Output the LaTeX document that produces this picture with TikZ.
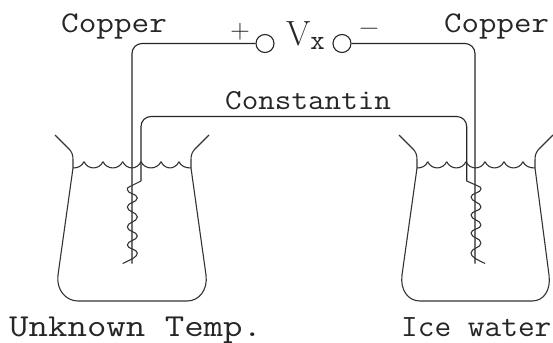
\documentclass[tikz,border=0pt]{standalone}
\tikzset{
  wire/.style={line width=1.1pt,draw=black!85,rounded corners=10pt},
  glass/.style={line width=1.1pt,draw=black!80,line join=round},
  terminal/.style={circle,draw=black!85,line width=1.1pt,minimum size=18pt,inner sep=0pt},
  tlabel/.style={anchor=base west,inner sep=0pt,text=black!85,font=\ttfamily},
  sign/.style={inner sep=0pt,text=black!85}
}
\newcommand{\fs}[1]{\fontsize{#1}{#1}\selectfont}
\begin{document}
\begin{tikzpicture}[x=1pt,y=-1pt]
\useasboundingbox (0,0) rectangle (553,342);
% terminals
\node[terminal] (tp) at (265,43.5) {};
\node[terminal] (tm) at (342,43.5) {};
\coordinate (cuL) at (132,263.5);
\coordinate (cuR) at (475,263.5);
\coordinate (coL) at (141,181);
\coordinate (coR) at (466.7,181);
% wires
\draw[wire] (tp.west) -- (cuL |- tp.west) -- (cuL);
\draw[wire] (tm.east) -- (cuR |- tm.east) -- (cuR);
\draw[wire] (coL) -- (141,116.5) -- (466.7,116.5) -- (coR);
% coils
\draw[glass] (coL) -- (130,186.5) .. controls (127.5,187.5) and (127.3,188) .. (127.3,189.5)
  .. controls (127.3,194) and (137.3,193.5) .. (137.3,198)
  .. controls (137.3,202.5) and (127.3,202.5) .. (127.3,207)
  .. controls (127.3,212) and (137.3,212) .. (137.3,217)
  .. controls (137.3,222) and (127.3,222) .. (127.3,227)
  .. controls (127.3,231.5) and (137.3,231.5) .. (137.3,236)
  .. controls (137.3,240.5) and (127.3,240.5) .. (127.3,245)
  .. controls (127.3,249) and (137.3,249) .. (137.3,253)
  .. controls (137.3,257) and (132,259) .. (122.7,263.5);
\draw[glass] (coR) -- (478,186) .. controls (480.5,187) and (481,187.5) .. (481,189)
  .. controls (481,193) and (471,193) .. (471,197)
  .. controls (471,201.5) and (481,202.5) .. (481,207)
  .. controls (481,211) and (471,211) .. (471,215)
  .. controls (471,220) and (481,220) .. (481,225)
  .. controls (481,229) and (471,229) .. (471,233)
  .. controls (471,238) and (481,238) .. (481,243)
  .. controls (481,248) and (471,248) .. (471,253)
  .. controls (471,257) and (477,259.5) .. (485,263.5);
% beakers
\draw[glass] (55,135) -- (69,149) .. controls (72,152) and (73,155) .. (73,160) -- (73,168)
  -- (58,275) .. controls (56,290) and (66,301) .. (78,301) -- (187,301)
  .. controls (199,301) and (208,290) .. (206,275) -- (191,168) -- (191,160)
  .. controls (191,155) and (192,152) .. (195,149) -- (209,135);
\draw[glass] (399,135) -- (413,149) .. controls (416,152) and (417,155) .. (417,160) -- (417,168)
  -- (402,275) .. controls (400,290) and (408,301) .. (420,301) -- (532,301)
  .. controls (544,301) and (551,290) .. (549,275) -- (535,168) -- (535,160)
  .. controls (535,155) and (536,152) .. (539,149) -- (553,135);
% water
\draw[glass] (73,168) .. controls (78,168) and (82,166) .. (84,161.7);
\foreach \a/\b in {84/103,103/122.7,122.7/141,141/161,161/179}
  \draw[glass] (\a,161.7) .. controls ({\a+4},170) and ({\b-4},170) .. (\b,161.7);
\draw[glass] (179,161.7) .. controls (181,166) and (185,168) .. (191,168);
\draw[glass] (417,168) .. controls (422,168) and (426,166) .. (427.7,161.7);
\foreach \a/\b in {427.7/446.7,446.7/466,466/485,485/504,504/523}
  \draw[glass] (\a,161.7) .. controls ({\a+4},170) and ({\b-4},170) .. (\b,161.7);
\draw[glass] (523,161.7) .. controls (525,166) and (529,168) .. (535,168);
% labels
\node[tlabel,xscale=1.14] (l1) at (61,33) {\fs{30}Copper};
\node[tlabel,xscale=1.13] (l2) at (444,33) {\fs{30}Copper};
\node[tlabel,xscale=1.11] (l3) at (225,110) {\fs{29}Constantin};
\node[tlabel,xscale=1.18] (l4) at (9,336) {\fs{32}Unknown Temp.};
\node[tlabel,xscale=1.045] (l5) at (401,336) {\fs{31}Ice water};
\node[sign] (p) at (240,32) {\fs{27}+};
\node[sign] (m) at (369,32) {\fs{27}−};
\node[sign,anchor=base west] (vx) at (286,46) {\fs{35}V\raisebox{-4pt}{\ttfamily\fs{28}x}};
\end{tikzpicture}
\end{document}
